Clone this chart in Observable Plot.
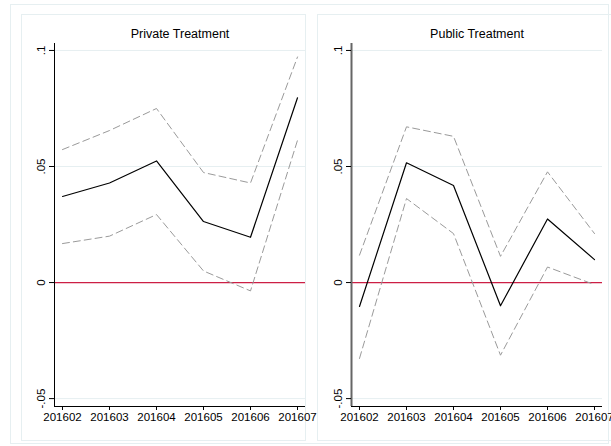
<!DOCTYPE html>
<html>
<head>
<meta charset="utf-8">
<script src="https://cdn.jsdelivr.net/npm/d3@7"></script>
<script src="https://cdn.jsdelivr.net/npm/@observablehq/plot@0.6"></script>
<style>
  html, body { margin: 0; padding: 0; background: #fff; }
  #wrap { position: relative; width: 611px; height: 446px; overflow: hidden; }
  #wrap > svg { position: absolute; left: 0; top: 0; }
  .box { position: absolute; border: 1px solid #e6eff1; box-sizing: border-box; }
</style>
</head>
<body>
<div id="wrap">
  <div class="box" style="left:10px;top:4px;width:599px;height:440px;"></div>
  <div class="box" style="left:21px;top:14px;width:285px;height:427px;"></div>
  <div class="box" style="left:317px;top:14px;width:300px;height:427px;"></div>
</div>
<script>
const months = ["201602", "201603", "201604", "201605", "201606", "201607"];
const titles = ["Private Treatment", "Public Treatment"];

const privCoef  = [0.0371, 0.0429, 0.0524, 0.0263, 0.0195, 0.0796];
const privUpper = [0.0573, 0.0655, 0.0750, 0.0474, 0.0429, 0.0972];
const privLower = [0.0168, 0.0200, 0.0293, 0.0050, -0.0036, 0.0613];

const pubCoef  = [-0.0103, 0.0516, 0.0418, -0.0100, 0.0274, 0.0099];
const pubUpper = [0.0118, 0.0671, 0.0630, 0.0113, 0.0477, 0.0211];
const pubLower = [-0.0327, 0.0362, 0.0211, -0.0313, 0.0067, -0.0009];

const yTicks = [-0.05, 0, 0.05, 0.1];
const yTickLabels = ["-.05", "0", ".05", ".1"];
const gridTicks = [-0.05, 0.05, 0.1];

const xDomain = [-0.17, 5.17];
const yDomain = [-0.0534, 0.103];

function panel(title, coef, upper, lower, left, right, axisColor, axisWidth) {
  const data = months.map((m, i) => ({i, coef: coef[i], upper: upper[i], lower: lower[i]}));
  return Plot.plot({
    width: 611,
    height: 446,
    marginLeft: left,
    marginRight: 611 - right,
    marginTop: 43,
    marginBottom: 40,
    x: {domain: xDomain},
    y: {domain: yDomain},
    style: {fontFamily: "'Liberation Sans', Arial, sans-serif", fontSize: "11.5px", background: "transparent", color: "#000", overflow: "visible"},
    marks: [
      Plot.ruleY(gridTicks, {stroke: "#e6eff1", strokeWidth: 1}),
      Plot.ruleY([0], {stroke: "#cc1f45", strokeWidth: 1.2}),
      Plot.line(data, {x: "i", y: "upper", stroke: "#9a9a9a", strokeWidth: 1, strokeDasharray: "7,4"}),
      Plot.line(data, {x: "i", y: "lower", stroke: "#9a9a9a", strokeWidth: 1, strokeDasharray: "7,4"}),
      Plot.line(data, {x: "i", y: "coef", stroke: "#000", strokeWidth: 1.2}),
      Plot.ruleX([xDomain[0]], {stroke: axisColor, strokeWidth: axisWidth}),
      Plot.ruleY([yDomain[0]], {stroke: "#000", strokeWidth: 1}),
      Plot.axisX({ticks: months.map((m, i) => i), tickFormat: d => months[d], tickSize: 4, tickPadding: 2, label: null}),
      Plot.axisY({ticks: yTicks, tickFormat: d => yTickLabels[yTicks.indexOf(d)], tickSize: 5, tickPadding: 5, tickRotate: -90, label: null}),
      Plot.text([title], {frameAnchor: "top", dy: -10, fontSize: 12.5, lineAnchor: "middle"})
    ]
  });
}

const wrap = document.getElementById("wrap");
wrap.appendChild(panel(titles[0], privCoef, privUpper, privLower, 54, 305, "#000", 1));
wrap.appendChild(panel(titles[1], pubCoef, pubUpper, pubLower, 351, 602, "#666", 2));
</script>
</body>
</html>
